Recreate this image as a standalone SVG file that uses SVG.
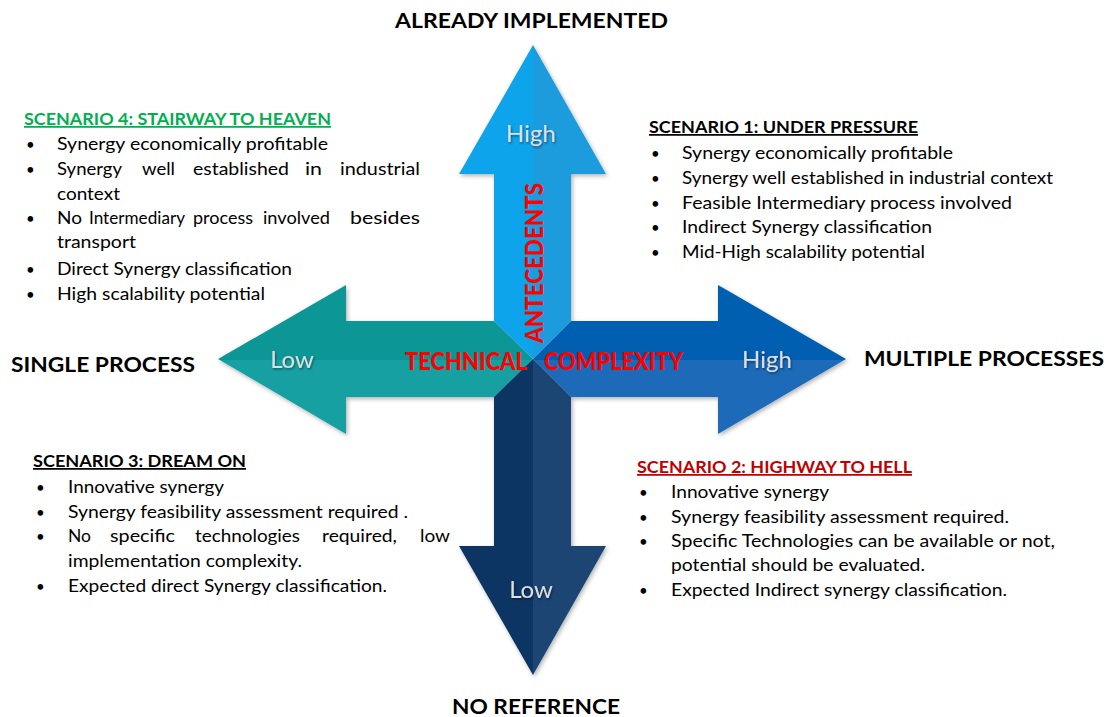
<svg xmlns="http://www.w3.org/2000/svg" width="1110" height="717" viewBox="0 0 1110 717">
<defs>
<style>
.t{font-family:Lato,"Liberation Sans",sans-serif;font-size:17.5px;fill:#000}
.b{font-family:Lato,"Liberation Sans",sans-serif;font-size:15px;fill:#000}
.h{font-family:Lato,"Liberation Sans",sans-serif;font-size:17.5px;font-weight:bold;text-decoration:underline}
.ttl{font-family:Lato,"Liberation Sans",sans-serif;font-size:21px;font-weight:bold;fill:#000}
.lbl{font-family:Lato,"Liberation Sans",sans-serif;font-size:24px;fill:#dedede;text-anchor:middle;filter:url(#ts)}
.ax{font-family:Lato,"Liberation Sans",sans-serif;font-size:24px;font-weight:900;fill:#ff0000}
</style>
<filter id="sh" x="-10%" y="-10%" width="130%" height="130%">
<feDropShadow dx="1.5" dy="2" stdDeviation="2" flood-color="#000" flood-opacity="0.3"/>
</filter>
<filter id="ts" x="-20%" y="-20%" width="140%" height="160%">
<feDropShadow dx="1" dy="1.5" stdDeviation="1" flood-color="#000" flood-opacity="0.45"/>
</filter>
<linearGradient id="gTop" gradientUnits="userSpaceOnUse" x1="459" y1="0" x2="606" y2="0">
<stop offset="0.5" stop-color="#0da4ec"/><stop offset="0.5" stop-color="#1e9cdd"/>
</linearGradient>
<linearGradient id="gLeft" gradientUnits="userSpaceOnUse" x1="0" y1="285" x2="0" y2="434">
<stop offset="0.5" stop-color="#0b9696"/><stop offset="0.5" stop-color="#18a0a2"/>
</linearGradient>
<linearGradient id="gRight" gradientUnits="userSpaceOnUse" x1="0" y1="285" x2="0" y2="434">
<stop offset="0.5" stop-color="#045fb1"/><stop offset="0.5" stop-color="#1a6bb8"/>
</linearGradient>
<linearGradient id="gBot" gradientUnits="userSpaceOnUse" x1="459" y1="0" x2="606" y2="0">
<stop offset="0.5" stop-color="#0a3463"/><stop offset="0.5" stop-color="#1b4473"/>
</linearGradient>
</defs>
<rect width="1110" height="717" fill="#fff"/>

<g id="arrows" filter="url(#sh)">
<polygon id="arrow-left" points="218,359 346,285 346,321 494,321 533,359 494,397 346,397 346,434" fill="url(#gLeft)"/>
<polygon id="arrow-right" points="846,359 718,434 718,397 571,397 533,359 571,321 718,321 718,285" fill="url(#gRight)"/>
<polygon id="arrow-bottom" points="533,675 459,546 494,546 494,397 533,359 571,397 571,546 606,546" fill="url(#gBot)"/>
<polygon id="arrow-top" points="533,45 606,174 571,174 571,321 533,359 494,321 494,174 459,174" fill="url(#gTop)"/>
</g>

<g id="arrow-labels">
<text class="lbl" x="531" y="142">High</text>
<text class="lbl" x="292" y="368">Low</text>
<text class="lbl" x="767" y="368">High</text>
<text class="lbl" x="531" y="598">Low</text>
<text class="ax" x="405" y="370" textLength="122" lengthAdjust="spacingAndGlyphs">TECHNICAL</text>
<text class="ax" x="544" y="370" textLength="139" lengthAdjust="spacingAndGlyphs">COMPLEXITY</text>
<text class="ax" transform="translate(543,343) rotate(-90)" x="0" y="0" textLength="160" lengthAdjust="spacingAndGlyphs">ANTECEDENTS</text>
</g>

<g id="axis-titles">
<text class="ttl" x="395" y="28" textLength="273" lengthAdjust="spacingAndGlyphs">ALREADY IMPLEMENTED</text>
<text class="ttl" x="11" y="372" textLength="184" lengthAdjust="spacingAndGlyphs">SINGLE PROCESS</text>
<text class="ttl" x="864" y="366" textLength="240" lengthAdjust="spacingAndGlyphs">MULTIPLE PROCESSES</text>
<text class="ttl" x="452" y="714" textLength="168" lengthAdjust="spacingAndGlyphs">NO REFERENCE</text>
</g>

<g id="scenario-4">
<text class="h" x="24" y="125" fill="#00b050" textLength="307" lengthAdjust="spacingAndGlyphs">SCENARIO 4: STAIRWAY TO HEAVEN</text>
<text class="b" x="26" y="150">•</text><text class="t" x="57" y="150" textLength="271" lengthAdjust="spacingAndGlyphs">Synergy economically profitable</text>
<text class="b" x="26" y="175">•</text>
<text class="t" x="57" y="175" textLength="65" lengthAdjust="spacingAndGlyphs">Synergy</text>
<text class="t" x="142" y="175" textLength="33" lengthAdjust="spacingAndGlyphs">well</text>
<text class="t" x="193" y="175" textLength="96" lengthAdjust="spacingAndGlyphs">established</text>
<text class="t" x="305" y="175" textLength="17" lengthAdjust="spacingAndGlyphs">in</text>
<text class="t" x="340" y="175" textLength="80" lengthAdjust="spacingAndGlyphs">industrial</text>
<text class="t" x="57" y="200" textLength="63" lengthAdjust="spacingAndGlyphs">context</text>
<text class="b" x="26" y="224">•</text>
<text class="t" x="57" y="224" textLength="25" lengthAdjust="spacingAndGlyphs">No</text>
<text class="t" x="89" y="224" textLength="96" lengthAdjust="spacingAndGlyphs">Intermediary</text>
<text class="t" x="193" y="224" textLength="60" lengthAdjust="spacingAndGlyphs">process</text>
<text class="t" x="263" y="224" textLength="67" lengthAdjust="spacingAndGlyphs">involved</text>
<text class="t" x="350" y="224" textLength="70" lengthAdjust="spacingAndGlyphs">besides</text>
<text class="t" x="57" y="248" textLength="79" lengthAdjust="spacingAndGlyphs">transport</text>
<text class="b" x="26" y="275">•</text><text class="t" x="57" y="275" textLength="235" lengthAdjust="spacingAndGlyphs">Direct Synergy classification</text>
<text class="b" x="26" y="300">•</text><text class="t" x="57" y="300" textLength="208" lengthAdjust="spacingAndGlyphs">High scalability potential</text>
</g>

<g id="scenario-1">
<text class="h" x="649" y="133" fill="#000" textLength="269" lengthAdjust="spacingAndGlyphs">SCENARIO 1: UNDER PRESSURE</text>
<text class="b" x="651" y="159">•</text><text class="t" x="682" y="159" textLength="271" lengthAdjust="spacingAndGlyphs">Synergy economically profitable</text>
<text class="b" x="651" y="184">•</text><text class="t" x="682" y="184" textLength="371" lengthAdjust="spacingAndGlyphs">Synergy well established in industrial context</text>
<text class="b" x="651" y="209">•</text><text class="t" x="682" y="209" textLength="330" lengthAdjust="spacingAndGlyphs">Feasible Intermediary process involved</text>
<text class="b" x="651" y="233">•</text><text class="t" x="682" y="233" textLength="250" lengthAdjust="spacingAndGlyphs">Indirect Synergy classification</text>
<text class="b" x="651" y="258">•</text><text class="t" x="682" y="258" textLength="243" lengthAdjust="spacingAndGlyphs">Mid-High scalability potential</text>
</g>

<g id="scenario-3">
<text class="h" x="33" y="467" fill="#000" textLength="213" lengthAdjust="spacingAndGlyphs">SCENARIO 3: DREAM ON</text>
<text class="b" x="36" y="493">•</text><text class="t" x="68" y="493" textLength="156" lengthAdjust="spacingAndGlyphs">Innovative synergy</text>
<text class="b" x="36" y="518">•</text><text class="t" x="68" y="518" textLength="340" lengthAdjust="spacingAndGlyphs">Synergy feasibility assessment required .</text>
<text class="b" x="36" y="542">•</text>
<text class="t" x="68" y="542" textLength="23" lengthAdjust="spacingAndGlyphs">No</text>
<text class="t" x="110" y="542" textLength="65" lengthAdjust="spacingAndGlyphs">specific</text>
<text class="t" x="195" y="542" textLength="105" lengthAdjust="spacingAndGlyphs">technologies</text>
<text class="t" x="322" y="542" textLength="75" lengthAdjust="spacingAndGlyphs">required,</text>
<text class="t" x="420" y="542" textLength="30" lengthAdjust="spacingAndGlyphs">low</text>
<text class="t" x="68" y="567" textLength="234" lengthAdjust="spacingAndGlyphs">implementation complexity.</text>
<text class="b" x="36" y="592">•</text><text class="t" x="68" y="592" textLength="319" lengthAdjust="spacingAndGlyphs">Expected direct Synergy classification.</text>
</g>

<g id="scenario-2">
<text class="h" x="637" y="473" fill="#c00000" textLength="275" lengthAdjust="spacingAndGlyphs">SCENARIO 2: HIGHWAY TO HELL</text>
<text class="b" x="639" y="498">•</text><text class="t" x="671" y="498" textLength="158" lengthAdjust="spacingAndGlyphs">Innovative synergy</text>
<text class="b" x="639" y="523">•</text><text class="t" x="671" y="523" textLength="338" lengthAdjust="spacingAndGlyphs">Synergy feasibility assessment required.</text>
<text class="b" x="639" y="547">•</text><text class="t" x="671" y="547" textLength="384" lengthAdjust="spacingAndGlyphs">Specific Technologies can be available or not,</text>
<text class="t" x="671" y="571" textLength="254" lengthAdjust="spacingAndGlyphs">potential should be evaluated.</text>
<text class="b" x="639" y="596">•</text><text class="t" x="671" y="596" textLength="336" lengthAdjust="spacingAndGlyphs">Expected Indirect synergy classification.</text>
</g>
</svg>
